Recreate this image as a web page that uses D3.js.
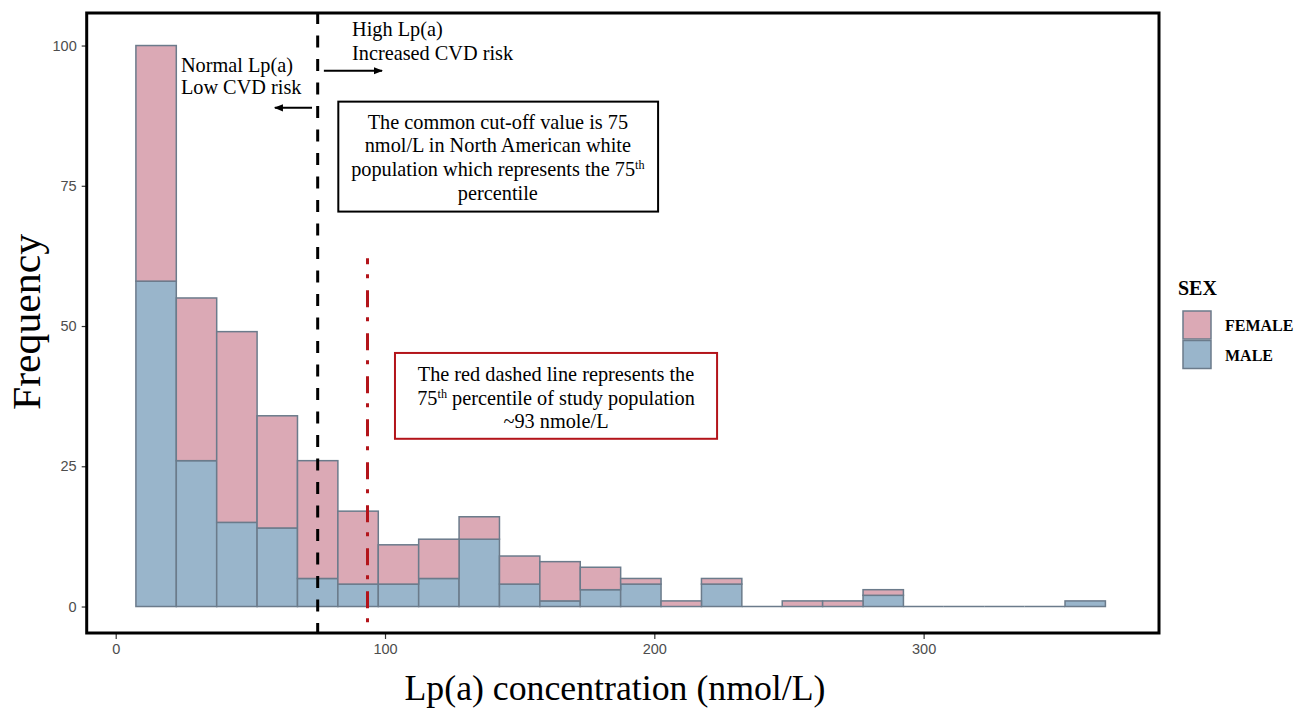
<!DOCTYPE html>
<html>
<head>
<meta charset="utf-8">
<script src="https://cdn.jsdelivr.net/npm/d3@7"></script>
<style>
  html, body { margin: 0; padding: 0; background: #fff; }
  svg { display: block; }
</style>
</head>
<body>
<svg id="chart" width="1297" height="711"></svg>
<script>
// histogram bins (Lp(a) nmol/L), binwidth 15
const binStart = 7.5;
const binWidth = 15;
const maleCounts   = [58, 26, 15, 14, 5, 4, 4, 5, 12, 4, 1, 3, 4, 0, 4, 0, 0, 0, 2, 0, 0, 0, 0, 1];
const femaleCounts = [42, 29, 34, 20, 21, 13, 7, 7, 4, 5, 7, 4, 1, 1, 1, 0, 1, 1, 1, 0, 0, 0, 0, 0];

const xTicks = [0, 100, 200, 300];
const yTicks = [0, 25, 50, 75, 100];

const cutoffCommon = 75;
const cutoffStudy = 93.5;

const sexLabels = ['FEMALE', 'MALE'];
const sexColors = ['#dba9b5', '#99b5cb'];

const svg = d3.select('#chart');

// panel geometry
const panel = { left: 86.7, top: 13, right: 1159, bottom: 633 };
const serif = '"Liberation Serif", "Times New Roman", serif';
const sans = '"Liberation Sans", Arial, sans-serif';

const x = d3.scaleLinear()
    .domain([-10.77, 387.4])
    .range([panel.left, panel.right]);

const y = d3.scaleLinear()
    .domain([-4.72, 105.8])
    .range([panel.bottom, panel.top]);

// build stacked bins
const bins = maleCounts.map((m, i) => ({
    x0: binStart + i * binWidth,
    x1: binStart + (i + 1) * binWidth,
    male: m,
    female: femaleCounts[i]
}));

const barStroke = '#6b7b8b';

const bars = svg.append('g');

// empty bins still show as a flat outline on the baseline
bars.selectAll('line.empty')
    .data(bins.filter(d => d.male + d.female === 0))
    .join('line')
    .attr('class', 'empty')
    .attr('x1', d => x(d.x0))
    .attr('x2', d => x(d.x1))
    .attr('y1', y(0)).attr('y2', y(0))
    .attr('stroke', barStroke)
    .attr('stroke-width', 1.5);

// male on the bottom
bars.selectAll('rect.male')
    .data(bins.filter(d => d.male > 0))
    .join('rect')
    .attr('class', 'male')
    .attr('x', d => x(d.x0))
    .attr('width', d => x(d.x1) - x(d.x0))
    .attr('y', d => y(d.male))
    .attr('height', d => y(0) - y(d.male))
    .attr('fill', sexColors[1])
    .attr('stroke', barStroke)
    .attr('stroke-width', 1.5);

// female stacked on top
bars.selectAll('rect.female')
    .data(bins.filter(d => d.female > 0))
    .join('rect')
    .attr('class', 'female')
    .attr('x', d => x(d.x0))
    .attr('width', d => x(d.x1) - x(d.x0))
    .attr('y', d => y(d.male + d.female))
    .attr('height', d => y(d.male) - y(d.male + d.female))
    .attr('fill', sexColors[0])
    .attr('stroke', barStroke)
    .attr('stroke-width', 1.5);

// cut-off lines
svg.append('line')
    .attr('x1', x(cutoffCommon)).attr('x2', x(cutoffCommon))
    .attr('y1', panel.top).attr('y2', panel.bottom)
    .attr('stroke', '#000')
    .attr('stroke-width', 3)
    .attr('stroke-dasharray', '12,11.5')
    .attr('stroke-dashoffset', 1);

svg.append('line')
    .attr('x1', x(cutoffStudy)).attr('x2', x(cutoffStudy))
    .attr('y1', y(62.1)).attr('y2', panel.bottom)
    .attr('stroke', '#b3141a')
    .attr('stroke-width', 3)
    .attr('stroke-dasharray', '17,10,4,12')
    .attr('stroke-dashoffset', 11);

// arrows
const defs = svg.append('defs');
defs.append('marker')
    .attr('id', 'arrow')
    .attr('viewBox', '0 0 10 10')
    .attr('refX', 9).attr('refY', 5)
    .attr('markerWidth', 4.5).attr('markerHeight', 4.5)
    .attr('markerUnits', 'strokeWidth')
    .attr('orient', 'auto')
    .append('path')
    .attr('d', 'M0,1 L10,5 L0,9 Z')
    .attr('fill', '#000');

svg.append('line')
    .attr('x1', x(77.3)).attr('x2', x(98.9))
    .attr('y1', y(95.5)).attr('y2', y(95.5))
    .attr('stroke', '#000').attr('stroke-width', 2)
    .attr('marker-end', 'url(#arrow)');

svg.append('line')
    .attr('x1', x(72.9)).attr('x2', x(59.1))
    .attr('y1', y(88.9)).attr('y2', y(88.9))
    .attr('stroke', '#000').attr('stroke-width', 2)
    .attr('marker-end', 'url(#arrow)');

// free text annotations; each line is its own <text>.
// a line is a string or a list of parts, a part being a string or {sup: '...'}
function textBlock(g, px, py, lines, anchor, size, lead) {
    lines.forEach((line, i) => {
        const t = g.append('text')
            .attr('x', px).attr('y', py + i * lead)
            .attr('text-anchor', anchor)
            .attr('font-family', serif)
            .attr('font-size', size)
            .attr('fill', '#000');
        const parts = Array.isArray(line) ? line : [line];
        let raised = false;
        parts.forEach(p => {
            const ts = t.append('tspan');
            if (typeof p === 'object') {
                ts.attr('font-size', size * 0.6).attr('dy', -7).text(p.sup);
                raised = true;
            } else {
                if (raised) { ts.attr('dy', 7); raised = false; }
                ts.text(p);
            }
        });
    });
}

const notes = svg.append('g');
textBlock(notes, x(87.75), y(101.7), ['High Lp(a)', 'Increased CVD risk'], 'start', 20.3, 23.5);
textBlock(notes, x(24.2), y(95.3), ['Normal Lp(a)', 'Low CVD risk'], 'start', 20.3, 22);

// box 1: common cut-off
notes.append('rect')
    .attr('x', x(82.66)).attr('y', y(90.0))
    .attr('width', x(201.4) - x(82.66))
    .attr('height', y(70.4) - y(90.0))
    .attr('fill', '#fff')
    .attr('stroke', '#000')
    .attr('stroke-width', 2);
textBlock(notes, x(141.9), y(85.2), [
    'The common cut-off value is 75',
    'nmol/L in North American white',
    ['population which represents the 75', { sup: 'th' }],
    'percentile'
], 'middle', 20.3, 23.8);

// box 2: study percentile
notes.append('rect')
    .attr('x', x(103.7)).attr('y', y(45.2))
    .attr('width', x(223.3) - x(103.7))
    .attr('height', y(29.9) - y(45.2))
    .attr('fill', '#fff')
    .attr('stroke', '#b3141a')
    .attr('stroke-width', 2);
textBlock(notes, x(163.5), y(40.2), [
    'The red dashed line represents the',
    ['75', { sup: 'th' }, ' percentile of study population'],
    '~93 nmole/L'
], 'middle', 20.3, 23.5);

// axes
const xAxis = svg.append('g')
    .attr('transform', `translate(0,${panel.bottom})`)
    .call(d3.axisBottom(x).tickValues(xTicks).tickSize(6).tickPadding(5));
const yAxis = svg.append('g')
    .attr('transform', `translate(${panel.left},0)`)
    .call(d3.axisLeft(y).tickValues(yTicks).tickSize(5).tickPadding(5));

[xAxis, yAxis].forEach(a => {
    a.select('.domain').remove();
    a.selectAll('.tick line').attr('stroke', '#333').attr('stroke-width', 1.2);
    a.selectAll('.tick text')
        .attr('fill', '#4d4d4d')
        .attr('font-family', sans)
        .attr('font-size', 14.5);
});

// panel frame
svg.append('rect')
    .attr('x', panel.left).attr('y', panel.top)
    .attr('width', panel.right - panel.left)
    .attr('height', panel.bottom - panel.top)
    .attr('fill', 'none')
    .attr('stroke', '#000')
    .attr('stroke-width', 3);

// axis titles
svg.append('text')
    .attr('x', 615).attr('y', 700)
    .attr('text-anchor', 'middle')
    .attr('font-family', serif)
    .attr('font-size', 35)
    .attr('textLength', 421)
    .attr('lengthAdjust', 'spacingAndGlyphs')
    .text('Lp(a) concentration (nmol/L)');

svg.append('text')
    .attr('transform', 'translate(40,322) rotate(-90)')
    .attr('text-anchor', 'middle')
    .attr('font-family', serif)
    .attr('font-size', 40)
    .attr('textLength', 176)
    .attr('lengthAdjust', 'spacingAndGlyphs')
    .text('Frequency');

// legend
const legend = svg.append('g').attr('transform', 'translate(1178,0)');
legend.append('text')
    .attr('x', 0).attr('y', 295)
    .attr('font-family', serif)
    .attr('font-weight', 'bold')
    .attr('font-size', 20)
    .text('SEX');

const keys = legend.selectAll('g.key')
    .data(sexLabels)
    .join('g')
    .attr('class', 'key')
    .attr('transform', (d, i) => `translate(5,${311 + i * 29.5})`);

keys.append('rect')
    .attr('width', 28).attr('height', 28)
    .attr('fill', (d, i) => sexColors[i])
    .attr('stroke', barStroke)
    .attr('stroke-width', 1.5);

keys.append('text')
    .attr('x', 42).attr('y', 20)
    .attr('font-family', serif)
    .attr('font-weight', 'bold')
    .attr('font-size', 16)
    .text(d => d);
</script>
</body>
</html>
